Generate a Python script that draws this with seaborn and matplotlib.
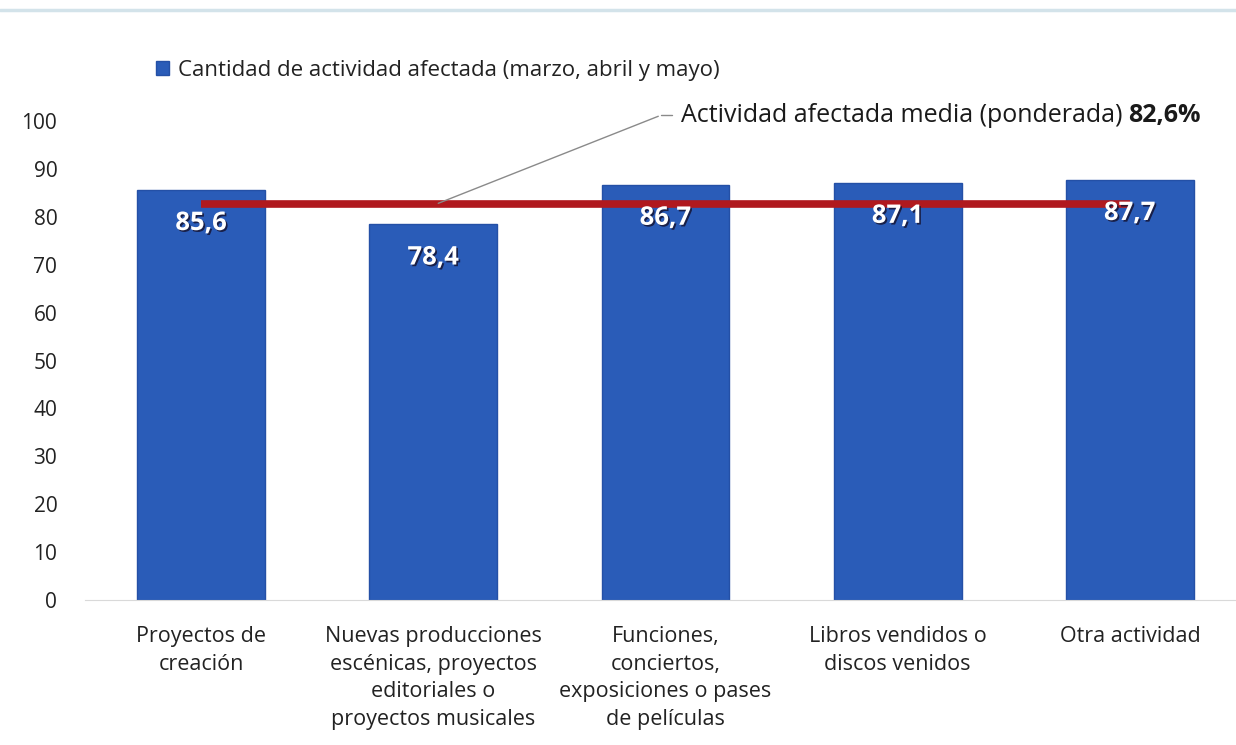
import seaborn as sns
import matplotlib.pyplot as plt
import matplotlib.patheffects as pe
from matplotlib.lines import Line2D

categories = [
    "Proyectos de\ncreación",
    "Nuevas producciones\nescénicas, proyectos\neditoriales o\nproyectos musicales",
    "Funciones,\nconciertos,\nexposiciones o pases\nde películas",
    "Libros vendidos o\ndiscos venidos",
    "Otra actividad",
]
values = [85.6, 78.4, 86.7, 87.1, 87.7]
value_labels = ["85,6", "78,4", "86,7", "87,1", "87,7"]
mean_value = 82.6
legend_label = "Cantidad de actividad afectada (marzo, abril y mayo)"

bar_color = "#2A5CB8"
line_color = "#B0191E"

sns.set_style("white")
plt.rcParams['font.family'] = ['Open Sans', 'DejaVu Sans']

fig = plt.figure(figsize=(12.36, 7.45), dpi=100)
ax = fig.add_axes([0.0688, 0.1946, 0.9312, 0.643])

sns.barplot(x=categories, y=values, color=bar_color, saturation=1, width=0.55,
            edgecolor="#2450A6", linewidth=1, ax=ax, label=legend_label)

ax.set_ylim(0, 100)
ax.set_xlim(-0.5, 4.457)
ax.set_yticks(range(0, 101, 10))
ax.tick_params(axis="y", length=0, labelsize=15, pad=20, colors="#222222")
ax.tick_params(axis="x", length=0, labelsize=15.5, pad=19, colors="#222222")
for lab in ax.get_xticklabels():
    lab.set_linespacing(1.4)
    lab.set_verticalalignment("top")
for s in ["top", "right", "left"]:
    ax.spines[s].set_visible(False)
ax.spines["bottom"].set_color("#D9D9D9")

# weighted mean line
ax.plot([0, len(values) - 1], [mean_value, mean_value], color=line_color, lw=5.5,
        solid_capstyle="butt", zorder=3)

# value labels inside bars
for i, (v, t) in enumerate(zip(values, value_labels)):
    ax.text(i, v - 6.8, t, ha="center", va="center", color="white",
            fontsize=18.5, fontweight="bold", zorder=4,
            path_effects=[pe.withSimplePatchShadow(offset=(1.2, -1.2), shadow_rgbFace="#151535", alpha=0.85)])

# annotation
ax.annotate("", xy=(1.01, mean_value), xytext=(1.98, 101.2),
            arrowprops=dict(arrowstyle="-", color="#8A8A8A", lw=1), annotation_clip=False)
ax.plot([1.98, 2.03], [101.2, 101.2], color="#8A8A8A", lw=1, clip_on=False)
t1 = ax.text(2.065, 101.2, "Actividad afectada media (ponderada) ", ha="left", va="center",
             fontsize=18, color="#1a1a1a", clip_on=False)
ax.annotate("82,6%", xy=(1, 0.5), xycoords=t1, ha="left", va="center",
            fontsize=18, fontweight="bold", color="#1a1a1a")

leg = ax.legend(loc="lower left", bbox_to_anchor=(0.054, 1.065), frameon=False,
                fontsize=16, handlelength=0.6, handleheight=0.6, handletextpad=0.4,
                borderaxespad=0)
for t in leg.get_texts():
    t.set_color("#222222")

fig.add_artist(Line2D([0, 1], [0.987, 0.987], color="#D3E3EA", lw=2.5, transform=fig.transFigure))

fig.savefig("out.png", dpi=100)
